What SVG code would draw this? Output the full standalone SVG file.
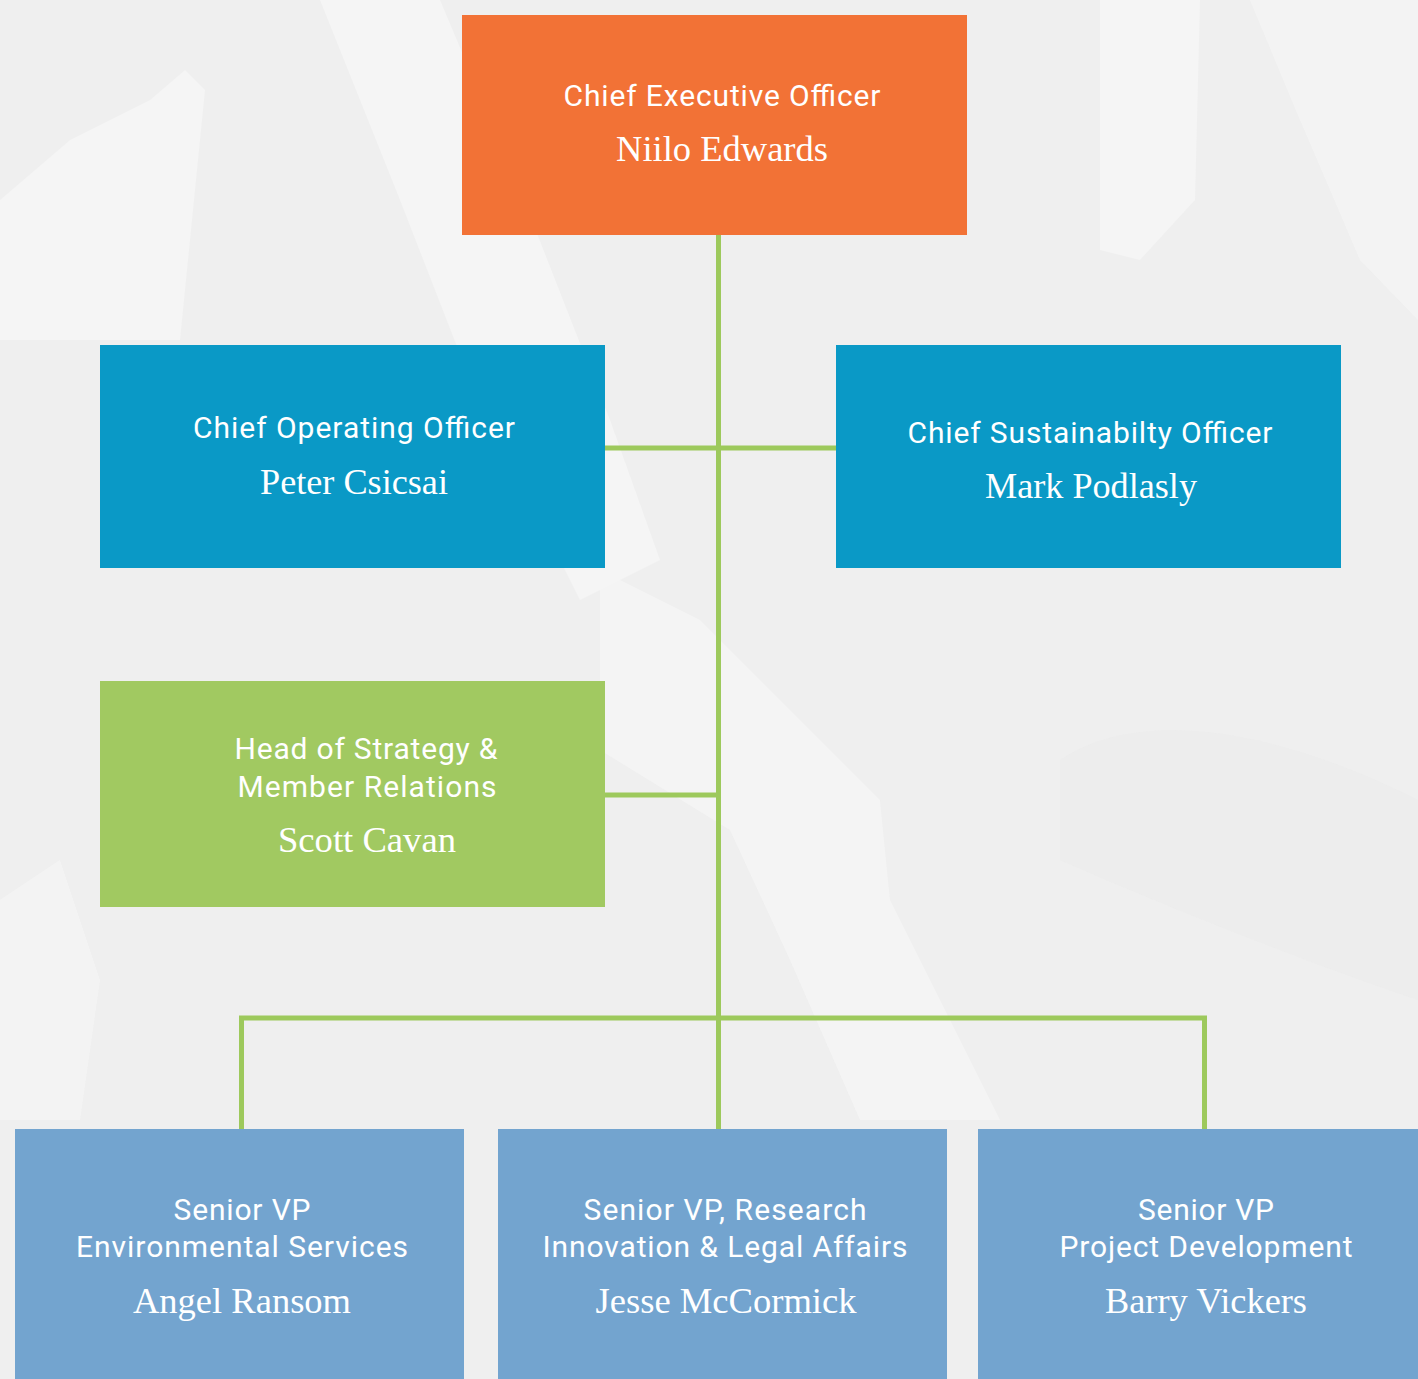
<svg xmlns="http://www.w3.org/2000/svg" width="1418" height="1379" viewBox="0 0 1418 1379">
  <style>
    .title { font-family: Roboto, "Liberation Sans", Arial, sans-serif; font-size: 30px; fill: #ffffff; text-anchor: middle; }
    .name { font-family: "Liberation Serif", "DejaVu Serif", serif; font-size: 36px; fill: #ffffff; text-anchor: middle; }
    .conn { stroke: #9dc95c; stroke-width: 5; fill: none; stroke-linecap: square; }
    .bgl { fill: #f5f5f5; }
    .bgd { fill: #ebebeb; }
  </style>
  <!-- background -->
  <g id="background">
    <rect x="0" y="0" width="1418" height="1379" fill="#efefef"/>
    <path class="bgl" d="M320 0 L440 0 L520 190 L610 420 L660 560 L580 600 L470 380 L400 200 Z"/>
    <path class="bgl" d="M0 200 L70 140 L150 100 L185 70 L205 90 L180 340 L0 340 Z"/>
    <path class="bgl" d="M1100 0 L1200 0 L1195 200 L1140 260 L1100 250 Z"/>
    <path class="bgl" d="M1250 0 L1418 0 L1418 320 L1360 260 L1300 120 Z" opacity="0.7"/>
    <path class="bgl" d="M600 570 L700 620 L800 720 L880 800 L890 900 L940 1000 L1000 1120 L860 1120 L790 960 L730 830 L600 750 Z" opacity="0.8"/>
    <path class="bgl" d="M0 900 L60 860 L100 980 L80 1120 L0 1120 Z" opacity="0.7"/>
    <path class="bgd" d="M1060 760 C1150 700 1300 740 1418 800 L1418 1000 C1300 960 1150 900 1060 860 Z" opacity="0.6"/>
  </g>

  <!-- connectors -->
  <g id="connectors">
    <line class="conn" x1="718.5" y1="236" x2="718.5" y2="1128"/>
    <line class="conn" x1="606" y1="448" x2="835" y2="448"/>
    <line class="conn" x1="606" y1="795" x2="718" y2="795"/>
    <polyline class="conn" points="241.5,1128 241.5,1018 1204.5,1018 1204.5,1128"/>
  </g>

  <!-- nodes -->
  <g id="node-ceo">
    <rect x="462" y="15" width="505" height="220" fill="#f27236"/>
    <text class="title" x="722" y="106" textLength="317" lengthAdjust="spacing">Chief Executive Officer</text>
    <text class="name" x="722" y="161" textLength="212" lengthAdjust="spacingAndGlyphs">Niilo Edwards</text>
  </g>

  <g id="node-coo">
    <rect x="100" y="345" width="505" height="223" fill="#0a99c6"/>
    <text class="title" x="354" y="438" textLength="322" lengthAdjust="spacing">Chief Operating Officer</text>
    <text class="name" x="354" y="494" textLength="188" lengthAdjust="spacingAndGlyphs">Peter Csicsai</text>
  </g>

  <g id="node-cso">
    <rect x="836" y="345" width="505" height="223" fill="#0a99c6"/>
    <text class="title" x="1090" y="443" textLength="365" lengthAdjust="spacing">Chief Sustainabilty Officer</text>
    <text class="name" x="1091" y="498" textLength="212" lengthAdjust="spacingAndGlyphs">Mark Podlasly</text>
  </g>

  <g id="node-strategy">
    <rect x="100" y="681" width="505" height="226" fill="#a1c961"/>
    <text class="title" x="366" y="759" textLength="263" lengthAdjust="spacing">Head of Strategy &amp;</text>
    <text class="title" x="367" y="797" textLength="259" lengthAdjust="spacing">Member Relations</text>
    <text class="name" x="367" y="852" textLength="178" lengthAdjust="spacingAndGlyphs">Scott Cavan</text>
  </g>

  <g id="node-svp-env">
    <rect x="15" y="1129" width="449" height="250" fill="#73a4cf"/>
    <text class="title" x="242" y="1220" textLength="137" lengthAdjust="spacing">Senior VP</text>
    <text class="title" x="242" y="1257" textLength="332" lengthAdjust="spacing">Environmental Services</text>
    <text class="name" x="242" y="1313" textLength="218" lengthAdjust="spacingAndGlyphs">Angel Ransom</text>
  </g>

  <g id="node-svp-research">
    <rect x="498" y="1129" width="449" height="250" fill="#73a4cf"/>
    <text class="title" x="725" y="1220" textLength="283" lengthAdjust="spacing">Senior VP, Research</text>
    <text class="title" x="725" y="1257" textLength="365" lengthAdjust="spacing">Innovation &amp; Legal Affairs</text>
    <text class="name" x="726" y="1313" textLength="261" lengthAdjust="spacingAndGlyphs">Jesse McCormick</text>
  </g>

  <g id="node-svp-project">
    <rect x="978" y="1129" width="440" height="250" fill="#73a4cf"/>
    <text class="title" x="1206" y="1220" textLength="136" lengthAdjust="spacing">Senior VP</text>
    <text class="title" x="1206" y="1257" textLength="293" lengthAdjust="spacing">Project Development</text>
    <text class="name" x="1206" y="1313" textLength="202" lengthAdjust="spacingAndGlyphs">Barry Vickers</text>
  </g>
</svg>
